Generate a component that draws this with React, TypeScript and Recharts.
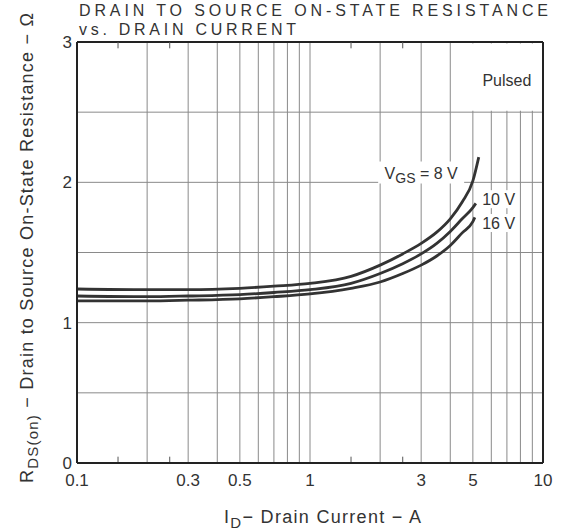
import { CartesianGrid, Line, LineChart, ReferenceArea, ReferenceDot, ReferenceLine, XAxis, YAxis } from "recharts"

// I_D (A) / R_DS(on) (ohm)
const current8V = [0.1, 0.2, 0.3, 0.5, 0.7, 1, 1.5, 2, 2.5, 3, 3.5, 4, 4.5, 5, 5.3]
const rds8V = [1.24, 1.235, 1.235, 1.245, 1.26, 1.28, 1.33, 1.41, 1.49, 1.565, 1.645, 1.74, 1.86, 2.01, 2.18]

const current10V = [0.1, 0.2, 0.3, 0.5, 0.7, 1, 1.5, 2, 2.5, 3, 3.5, 4, 4.5, 5, 5.15]
const rds10V = [1.19, 1.185, 1.19, 1.2, 1.215, 1.235, 1.28, 1.35, 1.42, 1.49, 1.565, 1.65, 1.74, 1.82, 1.85]

const current16V = [0.1, 0.2, 0.3, 0.5, 0.7, 1, 1.5, 2, 2.5, 3, 3.5, 4, 4.5, 5, 5.1]
const rds16V = [1.155, 1.155, 1.16, 1.17, 1.185, 1.205, 1.245, 1.29, 1.35, 1.41, 1.475, 1.55, 1.64, 1.72, 1.75]

const xGridTicks = [0.1, 0.2, 0.3, 0.4, 0.5, 0.6, 0.7, 0.8, 0.9, 1, 2, 3, 4, 5, 6, 7, 8, 9, 10]
const xLabelTicks = [0.1, 0.3, 0.5, 1, 3, 5, 10]
const yGridTicks = [0, 0.5, 1, 1.5, 2, 2.5, 3]
const yLabelTicks = [0, 1, 2, 3]
const minorTicks = [0.15, 0.25, 1.5, 2.5]

const toPoints = (xs: number[], ys: number[]) => xs.map((x, i) => ({ x, r: ys[i] }))

const FONT = "'Liberation Sans', Arial, sans-serif"
const INK = "#333"

function boxLabel(text: React.ReactNode, w: number, h: number) {
  return (props: any) => {
    const vb = props.viewBox || {}
    const cx = vb.x + (vb.width || 0) / 2
    const cy = vb.y + (vb.height || 0) / 2
    return (
      <g>
        <rect x={cx - w / 2} y={cy - h / 2} width={w} height={h} fill="#fff" />
        <text x={cx} y={cy + 6} textAnchor="middle" fontFamily={FONT} fontSize={16} fill={INK}>
          {text}
        </text>
      </g>
    )
  }
}

export default function App() {
  return (
    <div style={{ position: "absolute", left: 0, top: 0, width: 564, height: 530, background: "#fff" }}>
      <svg width={564} height={530} style={{ position: "absolute", left: 0, top: 0 }}>
        <text x={79} y={16} fontFamily={FONT} fontSize={16} fill={INK} textLength={469} lengthAdjust="spacing">
          DRAIN TO SOURCE ON-STATE RESISTANCE
        </text>
        <text x={79} y={35} fontFamily={FONT} fontSize={16} fill={INK} textLength={217} lengthAdjust="spacing">
          vs. DRAIN CURRENT
        </text>
        <text
          transform="translate(33 483) rotate(-90)"
          x={0}
          y={0}
          fontFamily={FONT}
          fontSize={18}
          fill={INK}
          textLength={470}
          lengthAdjust="spacing"
        >
          R<tspan fontSize={15} dy={5}>DS(on)</tspan>
          <tspan dy={-5}>{" \u2212 Drain to Source On-State Resistance \u2212 \u03a9"}</tspan>
        </text>
        <text x={224} y={523} fontFamily={FONT} fontSize={18} fill={INK} textLength={197} lengthAdjust="spacing">
          I<tspan fontSize={15} dy={5}>D</tspan>
          <tspan dy={-5}>{"\u2212 Drain  Current \u2212 A"}</tspan>
        </text>
      </svg>
      <div style={{ position: "absolute", left: 0, top: 0 }}>
        <LineChart width={564} height={530} margin={{ top: 42, right: 21, bottom: 0, left: 0 }}>
          <CartesianGrid stroke="#8a8a8a" strokeWidth={1} />
          <XAxis
            dataKey="x"
            type="number"
            scale="log"
            domain={[0.1, 10]}
            ticks={xGridTicks}
            allowDataOverflow
            height={67}
            tickLine={false}
            tickSize={0}
            tickMargin={11}
            axisLine={{ stroke: "#222", strokeWidth: 2 }}
            tick={{ fill: INK, fontSize: 17, fontFamily: FONT }}
            tickFormatter={(v: number) => (xLabelTicks.includes(v) ? String(v) : "")}
            interval={0}
          />
          <YAxis
            type="number"
            domain={[0, 3]}
            ticks={yGridTicks}
            width={77}
            tickLine={false}
            tickSize={0}
            tickMargin={5}
            axisLine={{ stroke: "#222", strokeWidth: 2 }}
            tick={{ fill: INK, fontSize: 17, fontFamily: FONT }}
            tickFormatter={(v: number) => (yLabelTicks.includes(v) ? String(v) : "")}
            interval={0}
          />
          <ReferenceArea x1={4.2} x2={9.9} y1={2.51} y2={2.99} fill="#fff" fillOpacity={1} stroke="none" />
          <ReferenceLine y={3} stroke="#222" strokeWidth={2} />
          <ReferenceLine x={10} stroke="#222" strokeWidth={2} />
          {minorTicks.map((t) => (
            <ReferenceLine key={"b" + t} segment={[{ x: t, y: 0 }, { x: t, y: 0.045 }]} stroke="#555" />
          ))}
          {minorTicks.map((t) => (
            <ReferenceLine key={"t" + t} segment={[{ x: t, y: 3 }, { x: t, y: 2.955 }]} stroke="#555" />
          ))}
          <ReferenceDot
            x={3.0}
            y={2.07}
            r={0}
            stroke="none"
            fill="none"
            label={boxLabel(
              <>
                V<tspan fontSize={14} dy={4}>GS</tspan>
                <tspan dy={-4}>{" = 8  V"}</tspan>
              </>,
              86,
              22
            )}
          />
          <ReferenceDot x={6.45} y={1.88} r={0} stroke="none" fill="none" label={boxLabel("10  V", 40, 18)} />
          <ReferenceDot x={6.45} y={1.71} r={0} stroke="none" fill="none" label={boxLabel("16  V", 40, 18)} />
          <ReferenceDot x={7.0} y={2.73} r={0} stroke="none" fill="none" label={boxLabel("Pulsed", 58, 20)} />
          <Line data={toPoints(current8V, rds8V)} dataKey="r" type="monotone" stroke="#333" strokeWidth={2.8} dot={false} isAnimationActive={false} />
          <Line data={toPoints(current10V, rds10V)} dataKey="r" type="monotone" stroke="#333" strokeWidth={2.8} dot={false} isAnimationActive={false} />
          <Line data={toPoints(current16V, rds16V)} dataKey="r" type="monotone" stroke="#333" strokeWidth={2.8} dot={false} isAnimationActive={false} />
        </LineChart>
      </div>
    </div>
  )
}
